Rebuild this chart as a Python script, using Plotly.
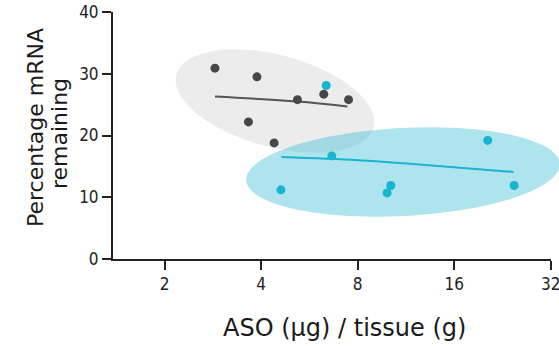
import math
import plotly.graph_objects as go

# ---- data ----
gray_x = [2.87, 3.88, 3.65, 4.39, 5.19, 6.27, 7.49]
gray_y = [30.9, 29.5, 22.2, 18.8, 25.8, 26.7, 25.8]
cyan_x = [6.38, 6.64, 4.61, 10.15, 9.88, 20.35, 24.6]
cyan_y = [28.1, 16.7, 11.2, 11.9, 10.7, 19.2, 11.9]

gray_fit_x = [2.87, 5.19, 7.43]
gray_fit_y = [26.3, 25.5, 24.7]
cyan_fit_x = [4.63, 8.0, 11.9, 24.5]
cyan_fit_y = [16.5, 16.0, 15.4, 14.1]

x_ticks = [2, 4, 8, 16, 32]
x_ticktext = ["2", "4", "8", "16", "32"]
y_ticks = [0, 10, 20, 30, 40]

# ---- layout geometry ----
W, H = 559, 346
ML, MR, MT, MB = 113, 8, 12, 87
PW, PH = W - ML - MR, H - MT - MB

GRAY = "#47474b"
CYAN = "#17b5cf"


def ellipse_path(cx, cy, a, b, theta_deg, n=120):
    """Ellipse in pixel space -> paper-coordinate SVG path."""
    t = math.radians(theta_deg)
    pts = []
    for i in range(n):
        p = 2 * math.pi * i / n
        ex = a * math.cos(p)
        ey = b * math.sin(p)
        px = cx + ex * math.cos(t) - ey * math.sin(t)
        py = cy + ex * math.sin(t) + ey * math.cos(t)
        pts.append(((px - ML) / PW, (MT + PH - py) / PH))
    d = "M %f,%f " % pts[0] + " ".join("L %f,%f" % q for q in pts[1:]) + " Z"
    return d


fig = go.Figure()

fig.add_trace(go.Scatter(x=gray_fit_x, y=gray_fit_y, mode="lines",
                         line=dict(color="#555558", width=2, shape="spline"),
                         hoverinfo="skip", showlegend=False))
fig.add_trace(go.Scatter(x=cyan_fit_x, y=cyan_fit_y, mode="lines",
                         line=dict(color=CYAN, width=2, shape="spline"),
                         hoverinfo="skip", showlegend=False))
fig.add_trace(go.Scatter(x=gray_x, y=gray_y, mode="markers",
                         marker=dict(color=GRAY, size=9), showlegend=False))
fig.add_trace(go.Scatter(x=cyan_x, y=cyan_y, mode="markers",
                         marker=dict(color=CYAN, size=9), showlegend=False))

shapes = [
    dict(type="path", xref="paper", yref="paper", layer="below",
         path=ellipse_path(275, 101, 102, 46, 15),
         fillcolor="rgba(170,170,170,0.22)", line=dict(width=0)),
    dict(type="path", xref="paper", yref="paper", layer="below",
         path=ellipse_path(403, 172, 157, 44, -3),
         fillcolor="rgba(30,180,205,0.36)", line=dict(width=0)),
]

tick_font = dict(family="DejaVu Sans Condensed, Liberation Sans Narrow, DejaVu Sans",
                 size=17, color="#222222")
title_font = dict(family="DejaVu Sans, Verdana, sans-serif", size=22, color="#1a1a1a")
xtitle_font = dict(family="DejaVu Sans, Verdana, sans-serif", size=24, color="#1a1a1a")

fig.update_layout(
    width=W, height=H,
    margin=dict(l=ML, r=MR, t=MT, b=MB),
    paper_bgcolor="white", plot_bgcolor="white",
    shapes=shapes,
    xaxis=dict(type="log", range=[math.log10(1.38), math.log10(32) + 0.0008],
               tickvals=x_ticks, ticktext=x_ticktext,
               showgrid=False, zeroline=False, showline=True,
               linecolor="#222222", linewidth=2,
               ticks="outside", ticklen=9, tickwidth=1.5, tickcolor="#222222",
               tickfont=tick_font, automargin=False, ticklabeloverflow="allow"),
    yaxis=dict(range=[0, 40], tickvals=y_ticks,
               showgrid=False, zeroline=False, showline=True,
               linecolor="#222222", linewidth=2,
               ticks="outside", ticklen=9, tickwidth=1.5, tickcolor="#222222",
               tickfont=tick_font, automargin=False, ticklabeloverflow="allow"),
    annotations=[
        dict(text="ASO (µg) / tissue (g)", xref="paper", yref="paper",
             x=(344 - ML) / PW, y=(MT + PH - 328) / PH,
             xanchor="center", yanchor="middle", showarrow=False, font=xtitle_font),
        dict(text="Percentage mRNA", xref="paper", yref="paper",
             x=(35 - ML) / PW, y=(MT + PH - 128) / PH, textangle=-90,
             xanchor="center", yanchor="middle", showarrow=False, font=title_font),
        dict(text="remaining", xref="paper", yref="paper",
             x=(59 - ML) / PW, y=(MT + PH - 134) / PH, textangle=-90,
             xanchor="center", yanchor="middle", showarrow=False, font=title_font),
    ],
)

fig.write_html("out.html")
